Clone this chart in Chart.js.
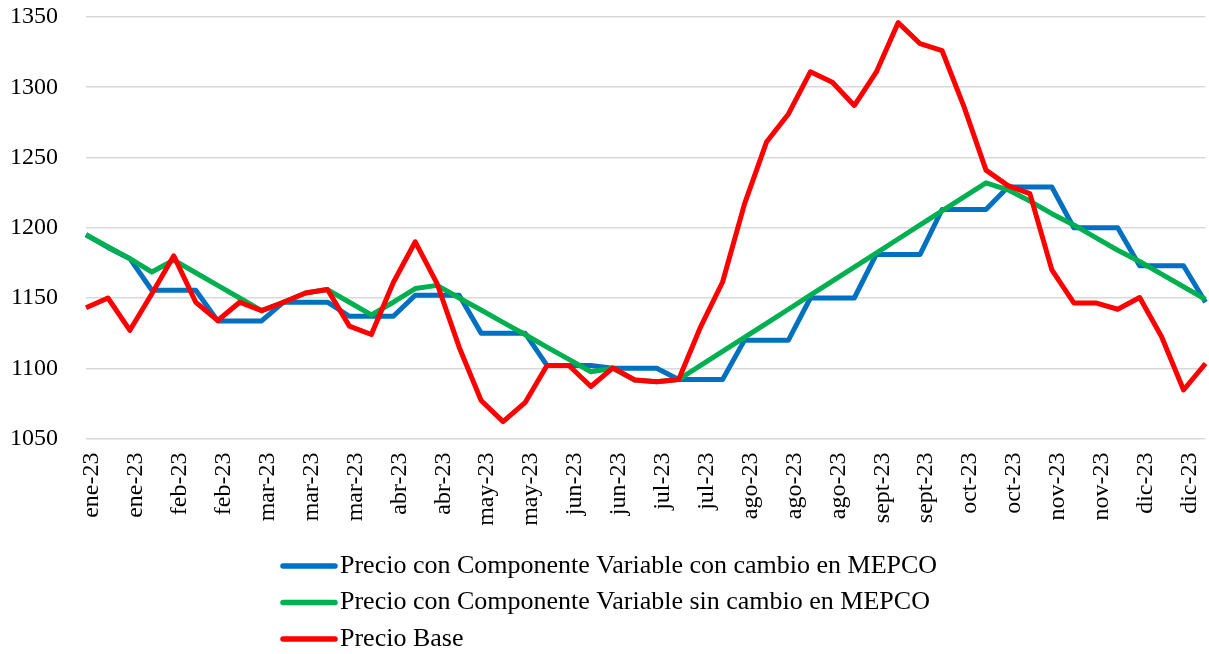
<!DOCTYPE html>
<html lang="es">
<head>
<meta charset="utf-8">
<title>Precio con Componente Variable</title>
<script src="https://cdn.jsdelivr.net/npm/chart.js@4.4.1/dist/chart.umd.min.js"></script>
<style>
html,body{margin:0;padding:0;background:#fff}
#wrap{width:1209px;height:654px;position:relative}
</style>
</head>
<body>
<div id="wrap"><canvas id="chart"></canvas></div>
<script>
// weekly points, 2023
const weeks=[
  "ene-23","ene-23","ene-23","ene-23","feb-23","feb-23","feb-23","feb-23",
  "mar-23","mar-23","mar-23","mar-23","mar-23","abr-23","abr-23","abr-23",
  "abr-23","may-23","may-23","may-23","may-23","jun-23","jun-23","jun-23",
  "jun-23","jun-23","jul-23","jul-23","jul-23","jul-23","ago-23","ago-23",
  "ago-23","ago-23","ago-23","sept-23","sept-23","sept-23","sept-23","oct-23",
  "oct-23","oct-23","oct-23","nov-23","nov-23","nov-23","nov-23","nov-23",
  "dic-23","dic-23","dic-23","dic-23"
];

const conCambio=[
  1195,1186,1178,1155.5,1155.5,1155.5,1133.7,1133.7,1133.7,1147,1147,1147,
  1137,1137,1137,1152,1152,1152,1125,1125,1125,1102,1102,1102,1100,1100,1100,
  1092,1092,1092,1120,1120,1120,1150,1150,1150,1181,1181,1181,1213,1213,1213,
  1229,1229,1229,1200,1200,1200,1173,1173,1173,1147
];

const sinCambio=[
  1195,1186.5,1178,1168.5,1177,1168,1159,1150,1141,1147,1153.6,1156,
  1147,1138,1147,1156.7,1159,1150,1141.5,1132.7,1124,1115,1106.3,1097.5,1100,1091.6,1090.4,
  1092,1102,1112,1122,1132,1142,1152,1162,1172,1182,1192,1202,1212,1222,1232,
  1227,1219,1210,1202,1193,1184,1176,1167,1158,1149
];

const base=[
  1143,1150,1127,1153,1180,1147,1134,1147,1141,1147,1153.6,1156,
  1130,1124,1161,1190,1160,1115,1077,1062,1075.5,1102,1102,1087,1100.3,1091.6,1090.4,
  1092,1129.5,1161.4,1217,1261,1281,1311,1303.6,1287,1310.7,1346,1331,1326,1286,1241,
  1230,1224.3,1170,1146.5,1146.5,1142,1150.3,1122.4,1084.5,1103.4
];

const seriesNames=[
  "Precio con Componente Variable con cambio en MEPCO",
  "Precio con Componente Variable sin cambio en MEPCO",
  "Precio Base"
];
const seriesColors=["#0070C0","#00B050","#FF0000"];
const yMin=1050, yMax=1350, yStep=50;

const FONT="'Liberation Serif', 'Times New Roman', serif";

/* legend drawn below the axis, one item per row */
const rowLegend={
  id:"rowLegend",
  afterDraw(c){
    const ctx=c.ctx;
    ctx.save();
    ctx.font="26px "+FONT;
    ctx.textBaseline="middle";
    ctx.textAlign="left";
    c.data.datasets.forEach((d,i)=>{
      const y=566+i*36.5;
      ctx.strokeStyle=d.borderColor;
      ctx.lineWidth=5.5;
      ctx.lineCap="round";
      ctx.beginPath();
      ctx.moveTo(283,y);
      ctx.lineTo(335,y);
      ctx.stroke();
      ctx.fillStyle="#000";
      ctx.fillText(d.label,340,y);
    });
    ctx.restore();
  }
};

function line(i,order){
  return {
    label:seriesNames[i],
    data:[conCambio,sinCambio,base][i],
    borderColor:seriesColors[i],
    backgroundColor:seriesColors[i],
    borderWidth:5,
    pointRadius:0,
    tension:0,
    borderJoinStyle:"round",
    borderCapStyle:"butt",
    order
  };
}

new Chart(document.getElementById("chart"),{
  type:"line",
  data:{labels:weeks,datasets:[line(0,3),line(1,2),line(2,1)]},
  options:{
    responsive:true,
    maintainAspectRatio:false,
    animation:false,
    layout:{padding:{top:17,right:3.5,bottom:120.5,left:0}},
    plugins:{legend:{display:false},tooltip:{enabled:false}},
    scales:{
      x:{
        offset:false,
        grid:{display:false,drawTicks:false},
        border:{display:false},
        afterFit(s){s.height=95;s.paddingLeft=0;s.paddingRight=0;},
        ticks:{
          autoSkip:false,
          maxRotation:90,minRotation:90,
          padding:14,
          labelOffset:6,
          color:"#000",
          font:{family:FONT,size:24},
          callback(v,i){return i%2===0?weeks[i]:"";}
        }
      },
      y:{
        min:yMin,max:yMax,
        grid:{color:"#d9d9d9",lineWidth:1.5,drawTicks:false},
        border:{display:false},
        afterFit(s){s.width=86;s.paddingTop=0;s.paddingBottom=0;},
        ticks:{
          stepSize:yStep,
          padding:28,
          color:"#000",
          font:{family:FONT,size:24},
          callback(v){return String(v);}
        }
      }
    }
  },
  plugins:[rowLegend]
});
</script>
</body>
</html>
